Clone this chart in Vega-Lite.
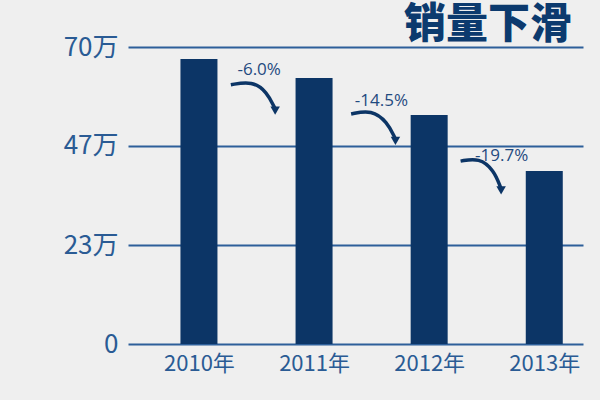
{
  "$schema": "https://vega.github.io/schema/vega-lite/v6.json",
  "autosize": "none",
  "width": 455,
  "height": 297,
  "padding": {"left": 128, "top": 47, "right": 17, "bottom": 56},
  "background": "#efefef",
  "title": {
    "text": "销量下滑",
    "anchor": "end",
    "orient": "top",
    "font": "Noto Sans CJK SC",
    "fontWeight": 900,
    "fontSize": 42,
    "color": "#0c3a6e",
    "offset": -13,
    "dx": -11
  },
  "config": {
    "view": {"stroke": null},
    "axis": {"labelFont": "Noto Sans CJK SC", "labelColor": "#2a5b94"}
  },
  "datasets": {
    "bars": [
      {"year": 2010, "sales": 67.2},
      {"year": 2011, "sales": 62.7},
      {"year": 2012, "sales": 54.0},
      {"year": 2013, "sales": 40.8}
    ],
    "arrows": [
      {"arrow": "a1", "order": 1, "x": 2010.277, "y": 61.1},
      {"arrow": "a1", "order": 2, "x": 2010.463, "y": 62.0},
      {"arrow": "a1", "order": 3, "x": 2010.591, "y": 59.4},
      {"arrow": "a1", "order": 4, "x": 2010.659, "y": 55.6},
      {"arrow": "a2", "order": 1, "x": 2011.322, "y": 54.2},
      {"arrow": "a2", "order": 2, "x": 2011.500, "y": 55.2},
      {"arrow": "a2", "order": 3, "x": 2011.636, "y": 52.3},
      {"arrow": "a2", "order": 4, "x": 2011.704, "y": 48.5},
      {"arrow": "a3", "order": 1, "x": 2012.273, "y": 43.1},
      {"arrow": "a3", "order": 2, "x": 2012.435, "y": 43.9},
      {"arrow": "a3", "order": 3, "x": 2012.562, "y": 41.0},
      {"arrow": "a3", "order": 4, "x": 2012.622, "y": 36.8}
    ],
    "heads": [
      {"x": 2010.662, "y": 55.0},
      {"x": 2011.707, "y": 47.9},
      {"x": 2012.625, "y": 36.2}
    ],
    "labels": [
      {"x": 2010.523, "y": 64.6, "text": "-6.0%"},
      {"x": 2011.585, "y": 57.3, "text": "-14.5%"},
      {"x": 2012.630, "y": 44.3, "text": "-19.7%"}
    ]
  },
  "layer": [
    {
      "data": {"name": "bars"},
      "mark": {"type": "bar", "size": 37, "color": "#0c3566"},
      "encoding": {
        "x": {
          "field": "year",
          "type": "quantitative",
          "scale": {"domain": [2009.427, 2013.293], "nice": false, "zero": false},
          "axis": {
            "values": [2010, 2011, 2012, 2013],
            "labelExpr": "datum.value + '年'",
            "title": null,
            "grid": false,
            "domain": false,
            "ticks": false,
            "labelFontSize": 22,
            "labelPadding": 9
          }
        },
        "y": {
          "field": "sales",
          "type": "quantitative",
          "scale": {"domain": [0, 70], "nice": false},
          "axis": {
            "values": [0, 23.3333, 46.6667, 70],
            "labelExpr": "datum.value == 0 ? '0' : format(round(datum.value), 'd') + '万'",
            "title": null,
            "domain": false,
            "ticks": false,
            "grid": true,
            "gridColor": "#2d5f9a",
            "gridWidth": 2,
            "gridOpacity": 1,
            "labelFontSize": 26,
            "labelPadding": 10,
            "labelColor": "#2a5b94"
          }
        }
      }
    },
    {
      "data": {"name": "arrows"},
      "mark": {"type": "line", "interpolate": "basis", "strokeWidth": 3.5, "color": "#0c3566"},
      "encoding": {
        "x": {"field": "x", "type": "quantitative"},
        "y": {"field": "y", "type": "quantitative"},
        "detail": {"field": "arrow"},
        "order": {"field": "order"}
      }
    },
    {
      "data": {"name": "heads"},
      "mark": {"type": "point", "shape": "triangle-down", "filled": true, "size": 90, "color": "#0c3566", "opacity": 1},
      "encoding": {
        "x": {"field": "x", "type": "quantitative"},
        "y": {"field": "y", "type": "quantitative"}
      }
    },
    {
      "data": {"name": "labels"},
      "mark": {"type": "text", "font": "Open Sans", "fontSize": 17, "color": "#1f4a80"},
      "encoding": {
        "x": {"field": "x", "type": "quantitative"},
        "y": {"field": "y", "type": "quantitative"},
        "text": {"field": "text"}
      }
    }
  ]
}
